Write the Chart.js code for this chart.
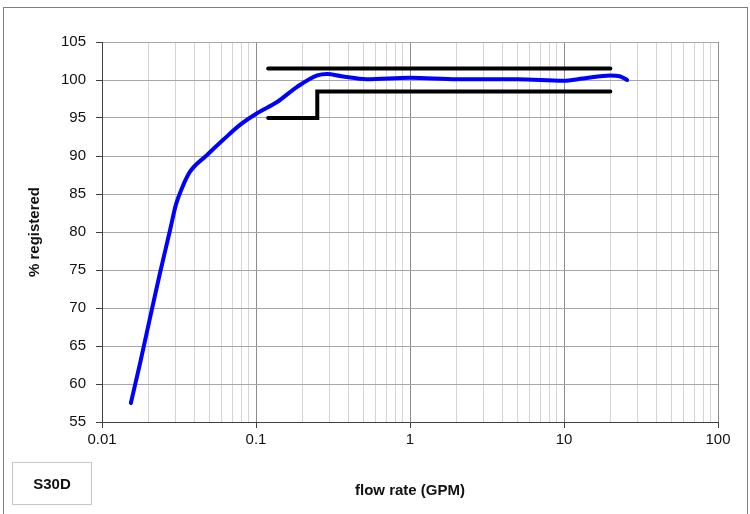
<!DOCTYPE html>
<html>
<head>
<meta charset="utf-8">
<script src="https://cdn.jsdelivr.net/npm/chart.js@4"></script>
<style>
  html, body { margin: 0; padding: 0; background: #fff; }
  #wrap { position: relative; width: 750px; height: 514px; overflow: hidden; }
  #frame { position: absolute; left: 3px; top: 7px; width: 745px; height: 520px; border: 1px solid #7f7f7f; box-sizing: border-box; pointer-events: none; }
  #tag { position: absolute; left: 12px; top: 462px; width: 80px; height: 43px; border: 1px solid #c8c8c8; box-sizing: border-box;
         font: bold 15px "Liberation Sans", Arial, sans-serif; color: #111; display: flex; align-items: center; justify-content: center; }
</style>
</head>
<body>
<div id="wrap">
  <canvas id="c" width="750" height="514"></canvas>
  <div id="frame"></div>
  <div id="tag">S30D</div>
</div>
<script>
// ---- data ----
const flowRate   = [0.0154, 0.0177, 0.0205, 0.0238, 0.0277, 0.0302, 0.0331, 0.0372, 0.0479, 0.061, 0.0787, 0.101, 0.137, 0.185, 0.25, 0.289, 0.36, 0.525, 1.0, 2.03, 4.98, 9.9, 13.3, 20, 23, 25.7];
const registered = [57.5, 62.8, 68.7, 74.6, 80.3, 83.6, 85.8, 87.9, 90.1, 92.1, 94.1, 95.6, 97.1, 99.1, 100.6, 100.8, 100.5, 100.1, 100.3, 100.1, 100.1, 99.9, 100.2, 100.6, 100.5, 100.0];
const upperFlow  = [0.12, 20];
const upperLimit = [101.5, 101.5];
const lowerFlow  = [0.12, 0.25, 0.25, 20];
const lowerLimit = [95, 95, 98.5, 98.5];
const decades    = [0.01, 0.1, 1, 10, 100];
const xTickLabels = ['0.01', '0.1', '1', '10', '100'];
const yMin = 55, yMax = 105, yStep = 5;

const toPts = (xs, ys) => xs.map((x, i) => ({x, y: ys[i]}));
const isDecade = v => decades.some(d => Math.abs(v - d) / d < 1e-6);
const FONT = '"Liberation Sans", Arial, sans-serif';

new Chart(document.getElementById('c'), {
  type: 'scatter',
  data: {
    datasets: [
      { data: toPts(upperFlow, upperLimit), showLine: true, borderColor: '#000', borderWidth: 4, pointRadius: 0, borderCapStyle: 'round', borderJoinStyle: 'miter' },
      { data: toPts(lowerFlow, lowerLimit), showLine: true, borderColor: '#000', borderWidth: 4, pointRadius: 0, borderCapStyle: 'round', borderJoinStyle: 'miter' },
      { data: toPts(flowRate, registered), showLine: true, borderColor: '#0000ff', borderWidth: 4, pointRadius: 0, borderCapStyle: 'round', cubicInterpolationMode: 'monotone' }
    ]
  },
  options: {
    responsive: false,
    animation: false,
    events: [],
    layout: { padding: { left: 0, top: 42, right: 32, bottom: 0 } },
    plugins: { legend: { display: false }, tooltip: { enabled: false } },
    scales: {
      x: {
        type: 'logarithmic', min: 0.01, max: 100,
        afterBuildTicks: s => {
          const t = [];
          for (let d = 0; d < decades.length - 1; d++)
            for (let m = 1; m < 10; m++) t.push({ value: +(decades[d] * m).toPrecision(6) });
          t.push({ value: decades[decades.length - 1] });
          s.ticks = t;
        },
        afterFit: s => { s.height = 92; },
        border: { display: true, color: '#404040', width: 1 },
        grid: {
          color: c => isDecade(c.tick.value) ? '#8c8c8c' : '#d4d4d4',
          tickColor: c => isDecade(c.tick.value) ? '#404040' : 'rgba(0,0,0,0)',
          tickLength: 6, lineWidth: 1
        },
        ticks: {
          autoSkip: false, maxRotation: 0, padding: 3, color: '#111',
          font: { family: FONT, size: 15 },
          callback: v => { const i = decades.findIndex(d => Math.abs(v - d) / d < 1e-6); return i >= 0 ? xTickLabels[i] : ''; }
        },
        title: { display: true, text: 'flow rate (GPM)', color: '#111', font: { family: FONT, size: 15, weight: 'bold' }, padding: { top: 0, bottom: 14 } }
      },
      y: {
        min: yMin, max: yMax,
        afterFit: s => { s.width = 102; },
        border: { display: true, color: '#404040', width: 1 },
        grid: { color: '#a6a6a6', tickColor: '#404040', tickLength: 6, lineWidth: 1 },
        ticks: { stepSize: yStep, padding: 10, color: '#111', font: { family: FONT, size: 15 } },
        title: { display: true, text: '% registered', color: '#111', font: { family: FONT, size: 15, weight: 'bold' }, padding: { top: 26, bottom: 0 } }
      }
    }
  }
});
</script>
</body>
</html>
